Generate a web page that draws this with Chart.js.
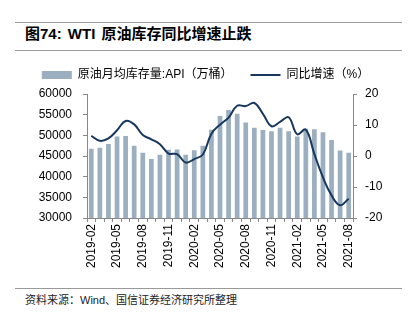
<!DOCTYPE html>
<html>
<head>
<meta charset="utf-8">
<script src="https://cdn.jsdelivr.net/npm/chart.js@4"></script>
<style>
  body { margin: 0; width: 411px; height: 321px; background: #fff; position: relative; overflow: hidden;
         font-family: "Liberation Sans", "Noto Sans CJK SC", sans-serif; }
  .rule { position: absolute; left: 15px; width: 387px; height: 0; border-top: 1px solid #999; }
  #title { position: absolute; left: 25px; top: 24px; font-size: 15px; line-height: 20px; font-weight: bold; color: #000;
           font-family: "Liberation Sans", "Noto Sans CJK SC", sans-serif; word-spacing: 2px; }
  #source { position: absolute; left: 25px; top: 292px; font-size: 11px; line-height: 16px; color: #222;
            font-family: "Liberation Sans", "Noto Sans CJK SC", sans-serif; }
  #box { position: absolute; left: 0; top: 51px; width: 411px; height: 234px; }
</style>
</head>
<body>
<div class="rule" style="top:22px"></div>
<div id="title">图74: WTI 原油库存同比增速止跌</div>
<div class="rule" style="top:50px"></div>
<div id="box"><canvas id="grafica"></canvas></div>
<div class="rule" style="top:288px"></div>
<div id="source">资料来源：Wind、国信证券经济研究所整理</div>

<script>
// meses 2019-02 .. 2021-08
var meses = ['2019-02','2019-03','2019-04','2019-05','2019-06','2019-07','2019-08','2019-09','2019-10','2019-11','2019-12',
             '2020-01','2020-02','2020-03','2020-04','2020-05','2020-06','2020-07','2020-08','2020-09','2020-10','2020-11','2020-12',
             '2021-01','2021-02','2021-03','2021-04','2021-05','2021-06','2021-07','2021-08'];

// 原油月均库存量:API（万桶）
var inventario = [46730, 46970, 47930, 49700, 49850, 47450, 45770, 44250, 45300, 46500, 46570,
                  45300, 46400, 47450, 51360, 54650, 56100, 55200, 53130, 51850, 51300, 50970, 51850,
                  50970, 49700, 51600, 51500, 50730, 48900, 46330, 45770];

// 同比增速（%）
var crecimiento = [6.5, 4.9, 5.7, 8.3, 11.3, 10.2, 6.8, 5.4, 3.8, 0.8, 0.6,
                   -2.1, -1.0, 0.5, 7.2, 10.1, 12.4, 16.2, 16.1, 17.1, 13.6, 9.6, 11.0,
                   12.5, 7.0, 8.5, 0.6, -6.9, -12.7, -15.9, -13.8];

var ticksIzq = [30000, 60000, 5000];
var ticksDer = [-20, 20, 10];

var fuente = { family: "'Liberation Sans', 'Noto Sans CJK SC', sans-serif", size: 12 };

// espacio extra debajo de la leyenda
const margenLeyenda = {
    id: 'margenLeyenda',
    beforeInit: function (chart) {
        const fit = chart.legend.fit;
        chart.legend.fit = function () {
            fit.bind(chart.legend)();
            this.height += 3;
        };
    }
};

const ctx = document.getElementById('grafica').getContext('2d');
const myChart = new Chart(ctx, {
    type: 'bar',
    data: {
        labels: meses,
        datasets: [{
            label: '原油月均库存量:API（万桶）',
            data: inventario,
            backgroundColor: '#9cafc1',
            borderWidth: 0,
            barPercentage: 0.55,
            categoryPercentage: 1,
            yAxisID: 'y',
            order: 2
        },
        {
            type: 'line',
            label: '同比增速（%）',
            data: crecimiento,
            borderColor: '#17375e',
            backgroundColor: '#17375e',
            borderWidth: 2,
            pointRadius: 0,
            tension: 0.4,
            fill: false,
            yAxisID: 'y1',
            order: 1
        }]
    },
    plugins: [margenLeyenda],
    options: {
        responsive: true,
        maintainAspectRatio: false,
        animation: false,
        devicePixelRatio: 1,
        layout: { padding: { left: 5, right: 5, top: 0, bottom: 0 } },
        plugins: {
            tooltip: { enabled: false },
            legend: {
                display: true,
                labels: {
                    color: '#000',
                    font: fuente,
                    usePointStyle: true,
                    pointStyleWidth: 30,
                    boxHeight: 8,
                    padding: 18,
                    sort: function (a, b) { return a.datasetIndex - b.datasetIndex; },
                    generateLabels: function (chart) {
                        var items = Chart.defaults.plugins.legend.labels.generateLabels(chart);
                        items.forEach(function (it) {
                            it.pointStyle = it.datasetIndex === 0 ? 'rect' : 'line';
                            if (it.datasetIndex === 0) { it.lineWidth = 0; }
                        });
                        return items;
                    }
                }
            }
        },
        scales: {
            x: {
                grid: { display: true, drawOnChartArea: false, drawTicks: true, tickLength: 4, color: '#888' },
                border: { display: true, color: '#888' },
                ticks: {
                    autoSkip: false,
                    minRotation: 90,
                    maxRotation: 90,
                    color: '#000',
                    font: fuente,
                    padding: 2,
                    callback: function (v, i) { return i % 3 === 0 ? meses[i] : ''; }
                },
                afterFit: function (s) { s.height = 67; }
            },
            y: {
                position: 'left',
                min: ticksIzq[0],
                max: ticksIzq[1],
                grid: { display: true, drawOnChartArea: false, drawTicks: true, tickLength: 4, color: '#888' },
                border: { display: true, color: '#888' },
                ticks: { stepSize: ticksIzq[2], autoSkip: false, color: '#000', font: fuente, padding: 11,
                         callback: function (v) { return String(v); } },
                afterFit: function (s) { s.width = 82; }
            },
            y1: {
                position: 'right',
                min: ticksDer[0],
                max: ticksDer[1],
                grid: { display: true, drawOnChartArea: false, drawTicks: true, tickLength: 4, color: '#888' },
                border: { display: true, color: '#888' },
                ticks: { stepSize: ticksDer[2], autoSkip: false, color: '#000', font: fuente, padding: 8,
                         callback: function (v) { return String(v); } },
                afterFit: function (s) { s.width = 53; }
            }
        }
    }
});
</script>
</body>
</html>
